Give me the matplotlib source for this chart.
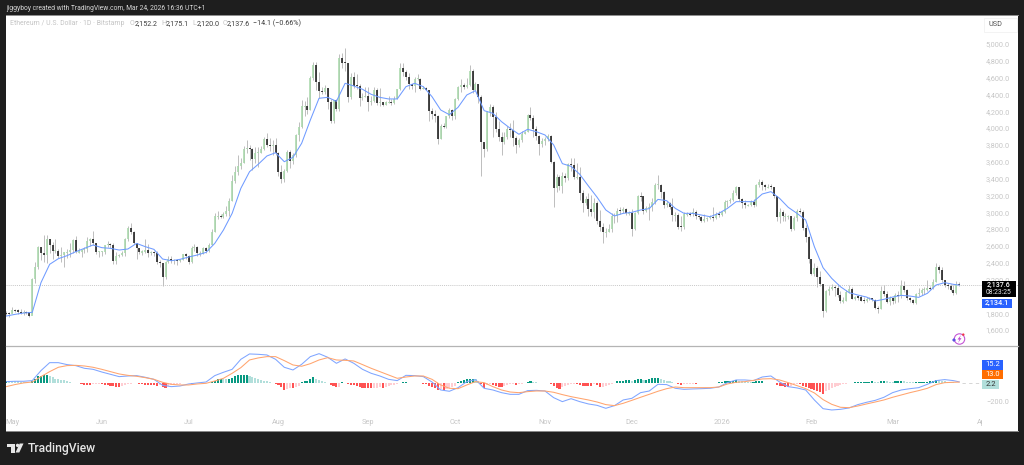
import matplotlib
matplotlib.use("Agg")
import matplotlib.pyplot as plt
from matplotlib.patches import Rectangle, Polygon, Circle
import matplotlib.dates as mdates
import numpy as np
import pandas as pd

# daily candles, 2025-04-29 to 2026-03-24
first_open = 1800
closes = [1795, 1790,
    # May
    1840, 1835, 1810, 1805, 1815, 1810, 1770, 2205, 2345, 2585, 2510, 2495, 2680, 2610, 2545, 2545, 2475, 2495, 2525, 2525, 2550, 2665, 2525, 2530, 2550, 2560, 2660, 2680, 2630, 2530, 2530,
    # Jun
    2530, 2605, 2620, 2610, 2420, 2480, 2490, 2510, 2680, 2815, 2770, 2640, 2575, 2525, 2530, 2550, 2510, 2525, 2520, 2410, 2400, 2225, 2410, 2450, 2420, 2430, 2420, 2435, 2500, 2485,
    # Jul
    2405, 2570, 2590, 2510, 2515, 2575, 2540, 2615, 2770, 2950, 2955, 2945, 2975, 3015, 3135, 3370, 3475, 3545, 3590, 3755, 3760, 3750, 3630, 3710, 3710, 3750, 3875, 3795, 3790, 3805, 3700,
    # Aug
    3480, 3390, 3495, 3720, 3610, 3680, 3915, 4010, 4260, 4260, 4220, 4600, 4750, 4550, 4440, 4430, 4480, 4310, 4080, 4340, 4225, 4835, 4780, 4770, 4375, 4610, 4505, 4500, 4360, 4375, 4385,
    # Sep
    4310, 4325, 4450, 4300, 4305, 4275, 4305, 4310, 4300, 4350, 4460, 4715, 4670, 4605, 4525, 4495, 4590, 4590, 4470, 4480, 4450, 4200, 4165, 4150, 3870, 4030, 4010, 4140, 4215, 4145,
    # Oct
    4350, 4485, 4515, 4490, 4515, 4685, 4455, 4525, 4370, 3835, 3750, 4195, 4250, 4130, 3985, 3890, 3830, 3890, 3985, 3980, 3880, 3800, 3860, 3930, 3955, 4160, 4120, 3985, 3905, 3810, 3850,
    # Nov
    3875, 3905, 3600, 3290, 3420, 3310, 3435, 3405, 3575, 3565, 3415, 3420, 3230, 3110, 3160, 3035, 3005, 3110, 2900, 2830, 2760, 2770, 2800, 2960, 2960, 3020, 3015, 3035, 2990, 2990,
    # Dec
    2800, 2995, 3195, 3190, 3020, 3050, 3060, 3120, 3325, 3325, 3240, 3085, 3115, 3060, 2965, 2965, 2830, 2825, 2975, 2980, 2975, 3005, 2960, 2945, 2900, 2925, 2930, 2945, 2935, 2970, 2965,
    # Jan
    3000, 3125, 3130, 3145, 3225, 3295, 3160, 3110, 3085, 3085, 3120, 3090, 3320, 3355, 3320, 3295, 3305, 3300, 3190, 2945, 3000, 2950, 2950, 2950, 2800, 2930, 3010, 3005, 2815, 2700, 2440,
    # Feb
    2270, 2340, 2230, 2150, 1825, 2060, 2090, 2110, 2100, 2015, 1940, 1950, 2050, 2085, 1970, 1995, 1990, 1950, 1945, 1970, 1975, 1960, 1860, 1855, 2060, 2030, 1930, 1975,
    # Mar
    1945, 2015, 2000, 2125, 2080, 1975, 1960, 1925, 2025, 2045, 2075, 2080, 2100, 2095, 2175, 2355, 2310, 2190, 2135, 2120, 2075, 2040, 2152.2, 2137.6]

highs = [1830, 1810,
    1870, 1855, 1845, 1850, 1835, 1830, 1815, 2215, 2410, 2600, 2590, 2735, 2725, 2680, 2650, 2680, 2560, 2590, 2530, 2560, 2640, 2680, 2720, 2570, 2560, 2590, 2700, 2690, 2780, 2640, 2545,
    2545, 2610, 2660, 2640, 2640, 2530, 2500, 2540, 2690, 2840, 2870, 2780, 2640, 2580, 2550, 2680, 2620, 2545, 2540, 2540, 2430, 2350, 2420, 2485, 2475, 2450, 2445, 2440, 2505, 2520,
    2495, 2600, 2625, 2595, 2540, 2585, 2590, 2635, 2795, 2990, 3020, 2980, 3000, 3080, 3170, 3440, 3550, 3680, 3650, 3790, 3860, 3800, 3760, 3780, 3780, 3790, 3890, 3940, 3885, 3860, 3880,
    3720, 3560, 3510, 3740, 3735, 3700, 3925, 4070, 4330, 4320, 4370, 4620, 4790, 4790, 4670, 4490, 4510, 4480, 4350, 4340, 4345, 4885, 4890, 4950, 4770, 4650, 4670, 4640, 4530, 4420, 4490,
    4490, 4385, 4490, 4480, 4480, 4310, 4320, 4380, 4350, 4385, 4470, 4770, 4770, 4690, 4655, 4530, 4610, 4640, 4595, 4495, 4490, 4450, 4240, 4220, 4160, 4050, 4060, 4150, 4240, 4225,
    4360, 4500, 4590, 4535, 4600, 4755, 4700, 4550, 4530, 4395, 3820, 4200, 4290, 4270, 4190, 4090, 3950, 3960, 4030, 4060, 4100, 3910, 3880, 3970, 3965, 4170, 4250, 4160, 4030, 3920, 3880,
    3890, 3925, 3915, 3610, 3460, 3440, 3480, 3465, 3590, 3640, 3640, 3590, 3540, 3270, 3190, 3230, 3200, 3170, 3130, 3030, 2870, 2810, 2860, 2990, 2990, 3050, 3060, 3060, 3050, 3010,
    3040, 3000, 3210, 3240, 3195, 3075, 3105, 3170, 3350, 3445, 3330, 3250, 3130, 3120, 3170, 3000, 2990, 2960, 3000, 3000, 3000, 3050, 3030, 2965, 2950, 2980, 2945, 2965, 3060, 3000, 3020,
    3010, 3150, 3150, 3170, 3260, 3310, 3300, 3170, 3140, 3100, 3145, 3160, 3340, 3400, 3380, 3330, 3330, 3340, 3300, 3195, 3050, 3030, 2990, 2970, 2960, 2960, 3040, 3050, 3030, 2850, 2720,
    2450, 2395, 2360, 2300, 2150, 2080, 2120, 2150, 2140, 2145, 2060, 1990, 2080, 2130, 2110, 2010, 2020, 2020, 1995, 1995, 1990, 1985, 1970, 1890, 2120, 2130, 2060, 2000,
    1990, 2040, 2060, 2200, 2180, 2085, 1990, 1970, 2045, 2100, 2100, 2115, 2200, 2120, 2210, 2395, 2370, 2350, 2200, 2155, 2145, 2130, 2185, 2175.1]

lows = [1775, 1755,
    1800, 1810, 1795, 1790, 1780, 1785, 1760, 1785, 2160, 2325, 2430, 2410, 2395, 2510, 2445, 2510, 2460, 2410, 2350, 2460, 2470, 2520, 2515, 2510, 2470, 2515, 2525, 2600, 2610, 2500, 2470,
    2475, 2500, 2590, 2580, 2380, 2390, 2470, 2480, 2480, 2655, 2740, 2620, 2440, 2500, 2490, 2510, 2470, 2490, 2480, 2380, 2350, 2120, 2210, 2400, 2400, 2385, 2370, 2410, 2430, 2440,
    2390, 2395, 2545, 2475, 2480, 2500, 2520, 2530, 2610, 2760, 2920, 2930, 2935, 2960, 2950, 3130, 3345, 3440, 3510, 3580, 3700, 3620, 3500, 3580, 3540, 3700, 3740, 3780, 3730, 3680, 3680,
    3430, 3350, 3355, 3480, 3530, 3570, 3660, 3850, 4000, 4150, 4170, 4210, 4570, 4450, 4360, 4400, 4410, 4225, 4060, 4060, 4200, 4205, 4720, 4680, 4310, 4350, 4480, 4470, 4260, 4330, 4370,
    4200, 4270, 4310, 4280, 4260, 4260, 4270, 4295, 4270, 4290, 4345, 4450, 4620, 4570, 4465, 4470, 4435, 4570, 4450, 4465, 4450, 4080, 4105, 4070, 3815, 3870, 4000, 4000, 4115, 4100,
    4110, 4340, 4430, 4470, 4480, 4500, 4420, 4450, 4300, 3430, 3660, 3725, 4150, 3900, 3950, 3850, 3680, 3810, 3870, 3890, 3790, 3710, 3780, 3840, 3925, 3950, 4100, 3900, 3860, 3680, 3780,
    3800, 3850, 3580, 3060, 3240, 3270, 3230, 3360, 3380, 3490, 3390, 3390, 3150, 3000, 3090, 2950, 2960, 2930, 2860, 2780, 2630, 2700, 2760, 2770, 2870, 2890, 2985, 2990, 2970, 2965,
    2720, 2790, 2980, 3130, 2980, 3000, 2910, 3020, 3100, 3280, 3170, 3050, 3060, 3040, 2900, 2900, 2800, 2780, 2800, 2960, 2950, 2950, 2920, 2920, 2880, 2890, 2900, 2920, 2900, 2915, 2945,
    2960, 2990, 3060, 3110, 3130, 3200, 3130, 3050, 3050, 3070, 3070, 3060, 3080, 3300, 3260, 3260, 3290, 3280, 3170, 2900, 2870, 2900, 2900, 2920, 2780, 2790, 2900, 2990, 2790, 2650, 2400,
    2250, 2240, 2110, 2120, 1750, 1810, 2020, 2070, 2000, 1990, 1920, 1920, 1940, 2040, 1970, 1960, 1960, 1940, 1920, 1935, 1955, 1945, 1850, 1800, 1850, 2010, 1920, 1900,
    1915, 1925, 1930, 1975, 2050, 1960, 1930, 1905, 1910, 2010, 2020, 2030, 2060, 2080, 2085, 2165, 2280, 2170, 2110, 2090, 2060, 2020, 2030, 2120.0]

# indicator lines, read every 3 days from 2025-04-29 and at the last day
ma_line = [1766, 1786, 1802, 1810, 2163, 2381, 2448, 2484, 2531, 2571, 2611, 2579, 2571, 2551, 2563, 2630, 2591, 2559, 2444, 2424, 2440, 2468, 2492, 2523, 2630, 2789, 2987, 3284, 3482, 3570, 3669, 3708, 3601, 3653,
    3820, 4097, 4355, 4366, 4319, 4533, 4501, 4462, 4402, 4366, 4347, 4347, 4493, 4533, 4493, 4374, 4216, 4160, 4248, 4394, 4446, 4208, 4176, 4077, 3998, 3927, 3986, 3958, 3919, 3800, 3578, 3546, 3451, 3312, 3178, 3027, 2956, 2987, 2999,
    3027, 3043, 3153, 3138, 3046, 2987, 2987, 2967, 2947, 2987, 3046, 3126, 3126, 3126, 3217, 3245, 3165, 3058, 2987, 2908, 2591, 2341, 2214, 2115, 2044, 2016, 1992, 1945, 1965, 1992, 2012, 2004, 1988, 2036, 2135, 2163, 2143, 2134.1]
macd_line = [18, 22, 22, 29, 137, 223, 223, 202, 191, 162, 151, 122, 97, 72, 79, 83, 65, 43, -22, -36, -29, -7, 4, 14, 83, 119, 151, 259, 317, 313, 306, 259, 173, 144, 205, 288, 320, 281, 216,
    263, 216, 151, 108, 79, 43, 29, 86, 83, 72, 14, -72, -86, -47, 18, 40, -54, -72, -101, -119, -119, -79, -76, -83, -155, -198, -166, -198, -223, -238, -270, -241, -180, -162, -101, -83, -11, -14, -54,
    -65, -61, -58, -54, -40, 7, 36, 36, 29, 68, 79, 14, -36, -50, -72, -180, -274, -288, -281, -266, -230, -205, -184, -151, -101, -72, -58, -47, -11, 29, 40, 29, 15.2]
signal_line = [-36, -14, 4, 14, 72, 126, 173, 191, 194, 187, 173, 151, 126, 101, 86, 76, 61, 43, 11, -11, -18, -18, -7, 0, 25, 54, 108, 169, 252, 274, 288, 288, 245, 198, 184, 212, 252, 277, 252,
    248, 241, 202, 162, 126, 90, 54, 68, 79, 79, 43, -18, -54, -58, -18, 18, 7, -36, -72, -94, -101, -90, -83, -83, -97, -122, -144, -162, -180, -202, -230, -241, -216, -184, -151, -119, -86, -58, -40,
    -47, -47, -47, -47, -40, -7, 11, 18, 32, 47, 50, 36, 7, -25, -58, -104, -176, -227, -259, -263, -245, -223, -202, -180, -151, -126, -101, -79, -54, -14, 7, 11, 13.0]

macd_hist = [28, 26, 24, 22, 20, 15, 12, 10, 8, 30, 43, 80, 80, 86, 90, 80, 65, 50, 43, 36, 32, 22, 14, 7, 3, 1,
    -10, -15, -20, -22, -12, -8, -4, -8, -15, -20, -25, -30, -38, -40, -30, -22, -12, -5, 4, 2, -5, -12, -18, -20, -22, -22, -25, -22, -40, -52, -25, -15, -8, -4, -3, -2, -2, -2, -3, -1,
    6, 3, 3, 4, 6, 12, 22, 43, 45, 43, 42, 50, 62, 78, 85, 86, 88, 90, 82, 70, 58, 50, 38, 30, 25, 18, 8,
    -3, -15, -45, -75, -60, -50, -50, -45, -30, 15, 25, 30, 45, 65, 50, 40, 30, 15, 5, -20, -30, -40, -35,
    10, 8, -5, -15, -22, -28, -40, -50, -55, -55, -55, -50, -48, -45, -50, -40, -30, -22, -15, -8, -2, 12, 14, 6, 3, 8, 3, -2, -4, -8, -25, -40, -55, -75, -65, -70, -60, -55, -45, -25,
    15, 28, 35, 42, 50, 50, 45, 30, -5, -55, -20, -10, -15, -28, -40, -40, -30, -20, -10, -8, -15, -8, -5, -2, 15, 28, 18, 12, 8, 4, 2, 5,
    -6, -30, -50, -60, -45, -30, -22, -10, -5, -6, -22, -30, -30, -30, -30, -12, -20, -40, -35, -30, -15, -8,
    4, 22, 25, 30, 32, 32, 28, 35, 45, 48, 35, 38, 42, 55, 60, 62, 50, 38, 30, 22, 15, 5, -12,
    -18, -6, -5, -4, -3, -3, -2, -1, 1, 2, 3, 4, 8, 14, 18, 22, 25, 28, 30, 38, 28, 22, 18, 15, 10, 16, 22, 24, 24, 8, 6, 3,
    -2, -15, -25, -32, -40, -45, -30, -8, -3, -4, -30, -45, -55, -65, -75, -85, -95, -112, -85, -70, -55, -42, -32, -22, -12, -5,
    5, 7, 10, 12, 14, 15, 17, 19, 20, 12, 9, 28, 30, 25, 18, 12, 22, 25, 30, 22, 15, 13, 10, 12, 14, 15, 15, 18, 20, 30, 38, 36, 28, 22, 18, 14, 12, 8, 2.2]

# 2,000 sits fully behind the price tag in the reference
price_ticks = [1600, 1800, 2200, 2400, 2600, 2800, 3000, 3200, 3400, 3600, 3800, 4000, 4200, 4400, 4600, 4800, 5000]
month_labels = ["May", "Jun", "Jul", "Aug", "Sep", "Oct", "Nov", "Dec", "2026", "Feb", "Mar", "Apr"]
month_starts = pd.date_range("2025-05-01", "2026-04-01", freq="MS")

BG = "#1e1e1e"
TICK_GREY = "#c6c6c6"
FONT = "Roboto"
plt.rcParams["font.family"] = FONT

W, H = 1024, 465


def px_axes(x0, y0, x1, y1, **kw):
    return fig.add_axes([x0 / W, 1 - y1 / H, (x1 - x0) / W, (y1 - y0) / H], **kw)


fig = plt.figure(figsize=(W / 100, H / 100), dpi=100, facecolor=BG)
ax = px_axes(6, 15, 1018, 346)
ax2 = px_axes(6, 347, 1018, 431)

days = pd.date_range("2025-04-29", periods=len(closes), freq="D")
x = mdates.date2num(days)
sample_x = np.append(x[::3], x[-1])

closes = np.array(closes, dtype=float)
opens = np.append(first_open, closes[:-1])
opens[-1] = 2152.2
up = closes >= opens

# candles
ax.vlines(x, lows, highs, color="#bdbdbd", lw=0.7, zorder=2)
mid = (opens + closes) / 2
half = np.maximum(np.abs(closes - opens), 12) / 2
ax.vlines(x[up], mid[up] - half[up], mid[up] + half[up], color="#a8d8aa", lw=1.15, zorder=3)
ax.vlines(x[~up], mid[~up] - half[~up], mid[~up] + half[~up], color="#1a1a1a", lw=1.15, zorder=3)
ax.plot(sample_x, ma_line, color="#6f9bff", lw=0.75, zorder=4)
ax.axhline(closes[-1], color="#b5b5b5", lw=0.5, ls=(0, (1.5, 1.5)), zorder=1)

# macd pane
hist_colors = []
prev = macd_hist[0]
for v in macd_hist:
    if v >= 0:
        hist_colors.append("#089981" if v >= prev else "#b2dfdb")
    else:
        hist_colors.append("#ff5252" if v <= prev else "#ffcdd2")
    prev = v
ax2.bar(x, macd_hist, width=0.72, color=hist_colors, zorder=2)
ax2.plot(sample_x, macd_line, color="#7fa5ff", lw=0.75, zorder=3)
ax2.plot(sample_x, signal_line, color="#ffa46e", lw=0.75, zorder=4)
ax2.plot([x[-1] + 1, x[-1] + 7], [0, 0], color="#cfcfcf", lw=0.6, ls=(0, (4, 4)))

for a in (ax, ax2):
    a.set_facecolor("white")
    a.set_xlim(x[2] - 2.07, x[2] + 347.3)
    a.grid(False)
    for s in a.spines.values():
        s.set_visible(False)

ax.set_ylim(1410, 5345)
ax.set_xticks([])
ax.yaxis.tick_right()
ax.set_yticks(price_ticks)
ax.set_yticklabels([f"{t:,.1f}" for t in price_ticks], ha="right", va="center_baseline")
ax.tick_params(axis="y", length=0, pad=-6, labelsize=5.3, labelcolor=TICK_GREY)

ax2.set_ylim(-515, 392)
ax2.yaxis.tick_right()
ax2.set_yticks([-200])
ax2.set_yticklabels(["\u2212200.0"], ha="right", va="center_baseline")
ax2.tick_params(axis="y", length=0, pad=-6, labelsize=5.3, labelcolor=TICK_GREY)
ax2.set_xticks(mdates.date2num(month_starts))
ax2.set_xticklabels(month_labels)
ax2.tick_params(axis="x", length=0, pad=-8.4, labelsize=5.3, labelcolor=TICK_GREY)

# everything drawn on top of the panes, in pixel coordinates
top = fig.add_axes([0, 0, 1, 1], facecolor="none", zorder=10)
top.set_xlim(0, W)
top.set_ylim(H, 0)
top.axis("off")

top.plot([6, 1018], [346, 346], color="#b4b4b4", lw=0.9)
top.plot([6, 1018], [15.5, 15.5], color="#8c8c8c", lw=0.7)
top.plot([6, 1018], [431, 431], color="#8c8c8c", lw=0.7)
top.add_patch(Rectangle((982, 418), 36, 10, color="white", lw=0))

top.text(6, 8.2, "jiggyboy created with TradingView.com, Mar 24, 2026 16:36 UTC+1", color="#d8d8d8",
         fontsize=4.85, va="center", ha="left")
top.text(10, 23.3, "Ethereum / U.S. Dollar \u00b7 1D \u00b7 Bitstamp", color="#c4c4c4", fontsize=4.95, va="center")
legend_bits = [(130, "O", "2,152.2"), (161, "H", "2,175.1"), (192, "L", "2,120.0"), (222.5, "C", "2,137.6")]
for lx, letter, val in legend_bits:
    top.text(lx, 23.3, letter, color="#c4c4c4", fontsize=5.1, va="center")
    top.text(lx + 4.6, 23.3, val, color="#3c3c3c", fontsize=5.1, va="center")
top.text(253, 23.3, "\u221214.1 (\u22120.66%)", color="#3c3c3c", fontsize=5.1, va="center")

# usd button
top.add_patch(Rectangle((984, 18), 33, 14, facecolor="white", edgecolor="#eeeeee", lw=0.5))
top.text(995, 24.8, "USD", color="#555555", fontsize=5.2, va="center", ha="center")

# price and macd tags
top.add_patch(Rectangle((982, 281), 34, 16, color="black", lw=0))
top.text(999, 285.2, "2,137.6", color="white", fontsize=5.1, va="center", ha="center", fontweight="medium")
top.text(999, 292.8, "08:23:25", color="#e8e8e8", fontsize=4.9, va="center", ha="center")
top.add_patch(Rectangle((982, 298.5), 30, 9, color="#2962ff", lw=0))
top.text(997, 303, "2,134.1", color="white", fontsize=5.2, va="center", ha="center", fontweight="medium")
top.add_patch(Rectangle((982, 360), 21, 9.5, color="#2962ff", lw=0))
top.text(992.5, 364.8, "15.2", color="white", fontsize=5.4, va="center", ha="center")
top.add_patch(Rectangle((982, 369.8), 21, 9.5, color="#ff6d00", lw=0))
top.text(992.5, 374.5, "13.0", color="white", fontsize=5.4, va="center", ha="center")
top.add_patch(Rectangle((982, 379.5), 17, 9.5, color="#b2dfdb", lw=0))
top.text(990.5, 384.3, "2.2", color="#333333", fontsize=5.4, va="center", ha="center")

# the small purple icon above the macd pane
top.add_patch(Circle((959.5, 339), 5.2, facecolor="white", edgecolor="#c455d6", lw=0.8))
top.add_patch(Polygon([(961, 335), (957.5, 339.5), (959.5, 339.5), (958, 343), (961.5, 338.2), (959.6, 338.2)],
                      color="#c040d0", lw=0))
top.add_patch(Polygon([(952, 340), (954, 338), (956, 340), (954, 342)], color="#5b4fe0", lw=0))
top.add_patch(Circle((963.3, 334.6), 1.2, color="#f23645", lw=0))

# tradingview logo
top.add_patch(Polygon([(7, 443.5), (15, 443.5), (15, 452.5), (11, 452.5), (11, 447), (7, 447)], color="#e6e6e6", lw=0))
top.add_patch(Circle((17.6, 445.4), 1.7, color="#e6e6e6", lw=0))
top.add_patch(Polygon([(19.7, 443.5), (23.5, 443.5), (19.3, 452.5), (15.5, 452.5)], color="#e6e6e6", lw=0))
top.text(27.5, 448.2, "TradingView", color="#e6e6e6", fontsize=8.7, va="center", ha="left", fontweight="medium")

fig.savefig("out.png", dpi=100, facecolor=BG)
